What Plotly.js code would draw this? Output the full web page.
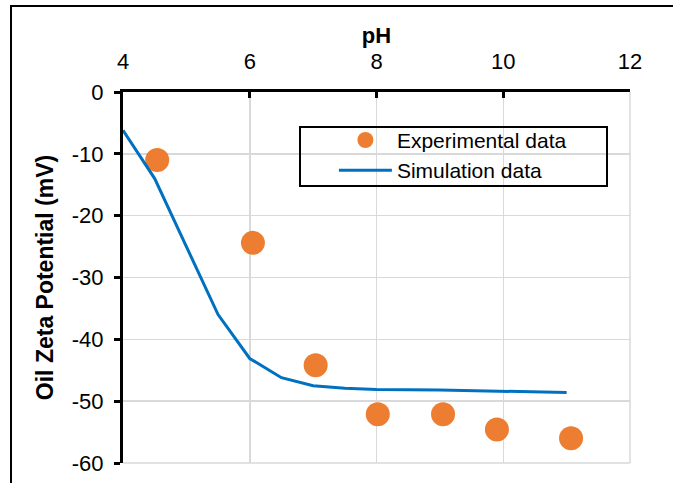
<!DOCTYPE html>
<html>
<head>
<meta charset="utf-8">
<script src="https://cdn.plot.ly/plotly-3.0.1.min.js"></script>
<style>
  html, body { margin: 0; padding: 0; background: #fff; overflow: hidden; }
  #wrap { position: relative; width: 673px; height: 483px; }
  #chart { position: absolute; left: 0; top: 0; width: 673px; height: 483px; }
  #frame { position: absolute; left: 10px; top: 5px; width: 700px; height: 520px;
           border: 2px solid #000; pointer-events: none; box-sizing: border-box; }
</style>
</head>
<body>
<div id="wrap">
  <div id="chart"></div>
  <div id="frame"></div>
</div>
<script>
// Experimental data
const expPH   = [4.54, 6.05, 7.04, 8.02, 9.05, 9.90, 11.07];
const expZeta = [-11.0, -24.4, -44.2, -52.1, -52.1, -54.6, -56.0];
// Simulation data
const simPH   = [4.0, 4.5, 5.5, 6.0, 6.5, 7.0, 7.5, 8.0, 9.0, 10.0, 11.0];
const simZeta = [-6.2, -14.0, -36.0, -43.1, -46.2, -47.5, -47.9, -48.1, -48.2, -48.4, -48.6];
const xTicks = [4, 6, 8, 10, 12];
const yTicks = [0, -10, -20, -30, -40, -50, -60];

const font = 'Liberation Sans, Arial, sans-serif';

const traces = [
  {
    x: expPH, y: expZeta, type: 'scatter', mode: 'markers',
    name: 'Experimental data',
    marker: { color: '#ED7D31', size: 24, line: { width: 0 } }
  },
  {
    x: simPH, y: simZeta, type: 'scatter', mode: 'lines',
    name: 'Simulation data',
    line: { color: '#0070C0', width: 3 }
  }
];

const layout = {
  width: 673, height: 483,
  margin: { l: 123, r: 43, t: 92, b: 20 },
  paper_bgcolor: 'rgba(0,0,0,0)',
  plot_bgcolor: '#fff',
  font: { family: font, size: 22, color: '#000' },
  showlegend: true,
  legend: {
    x: 0.416, y: 0.925, xanchor: 'left', yanchor: 'top',
    bgcolor: 'rgba(0,0,0,0)', borderwidth: 0,
    font: { family: font, size: 21, color: '#000' },
    itemwidth: 53, tracegroupgap: 0
  },
  xaxis: {
    side: 'top', range: [4, 12], tickvals: xTicks, ticktext: xTicks.map(String),
    showgrid: true, gridcolor: '#d9d9d9', gridwidth: 1.5,
    showline: true, linecolor: '#000', linewidth: 3,
    ticks: 'inside', ticklen: 6, tickwidth: 3, tickcolor: '#000',
    ticklabelstandoff: 11,
    zeroline: false,
    tickfont: { family: font, size: 22 },
    title: { text: '<b>pH</b>', font: { family: font, size: 22 }, standoff: 0 }
  },
  yaxis: {
    range: [-60, 0], tickvals: yTicks, ticktext: yTicks.map(String),
    showgrid: true, gridcolor: '#d9d9d9', gridwidth: 1.5,
    showline: true, linecolor: '#000', linewidth: 3,
    ticks: 'outside', ticklen: 6, tickwidth: 3, tickcolor: '#000',
    ticklabelstandoff: 6,
    zeroline: false,
    tickfont: { family: font, size: 22 },
    title: { text: '<b>Oil Zeta Potential (mV)</b>', font: { family: font, size: 23 }, standoff: 12 }
  },
  shapes: [
    { type: 'rect', xref: 'paper', yref: 'paper',
      x0: (300 - 123) / 507, x1: (607 - 123) / 507,
      y0: (463 - 186) / 371, y1: (463 - 127) / 371,
      line: { color: '#000', width: 2 }, fillcolor: 'rgba(0,0,0,0)', layer: 'above' },
    { type: 'line', xref: 'paper', yref: 'paper', x0: 1, x1: 1, y0: 0, y1: 1,
      line: { color: '#d9d9d9', width: 1.5 }, layer: 'below' },
    { type: 'line', xref: 'paper', yref: 'paper', x0: 0, x1: 1, y0: 0, y1: 0,
      line: { color: '#d9d9d9', width: 1.5 }, layer: 'below' }
  ]
};

Plotly.newPlot('chart', traces, layout, { staticPlot: true, displayModeBar: false });
</script>
</body>
</html>
